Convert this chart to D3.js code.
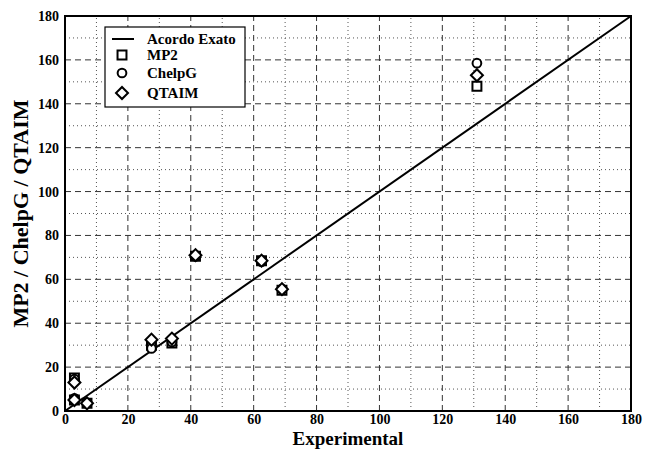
<!DOCTYPE html>
<html><head><meta charset="utf-8">
<script src="https://cdn.jsdelivr.net/npm/d3@7"></script>
<style>body{margin:0;background:#fff}svg{display:block}</style>
</head><body>
<svg id="chart" width="645" height="451"></svg>
<script>
const xTicks = [0,20,40,60,80,100,120,140,160,180];
const yTicks = [0,20,40,60,80,100,120,140,160,180];
const seriesNames = ["MP2","ChelpG","QTAIM"];
const expX   = [3, 3, 7, 27.5, 34, 41.5, 62.5, 69, 131];
const mp2    = [15, 5, 3.5, 30, 31, 70.5, 68.5, 55, 148];
const chelpg = [14.5, 5.8, 3.5, 28.5, 31.5, 70.5, 68, 55.5, 158.5];
const qtaim  = [13, 5, 3.5, 32.5, 33, 71, 68.5, 55.5, 153];
const legendLabels = ["Acordo Exato","MP2","ChelpG","QTAIM"];

const svg = d3.select("#chart");
const m = {l:65, r:14, t:16, b:40};
const W = 645, H = 451;
const x = d3.scaleLinear().domain([0,180]).range([m.l, W-m.r]);
const y = d3.scaleLinear().domain([0,180]).range([H-m.b, m.t]);
const font = "'Liberation Serif', 'Times New Roman', serif";

// grid
const minor = d3.range(10,180,20);
const major = d3.range(20,180,20);
const g = svg.append("g");
g.selectAll(".vminor").data(minor).enter().append("line")
  .attr("x1",d=>x(d)).attr("x2",d=>x(d)).attr("y1",y(0)).attr("y2",y(180))
  .attr("stroke","#555").attr("stroke-width",1).attr("stroke-dasharray","1,3");
g.selectAll(".hminor").data(minor).enter().append("line")
  .attr("y1",d=>y(d)).attr("y2",d=>y(d)).attr("x1",x(0)).attr("x2",x(180))
  .attr("stroke","#555").attr("stroke-width",1).attr("stroke-dasharray","1,3");
g.selectAll(".vmajor").data(major).enter().append("line")
  .attr("x1",d=>x(d)).attr("x2",d=>x(d)).attr("y1",y(0)).attr("y2",y(180))
  .attr("stroke","#333").attr("stroke-width",1).attr("stroke-dasharray","6,4");
g.selectAll(".hmajor").data(major).enter().append("line")
  .attr("y1",d=>y(d)).attr("y2",d=>y(d)).attr("x1",x(0)).attr("x2",x(180))
  .attr("stroke","#333").attr("stroke-width",1).attr("stroke-dasharray","6,4");

// axes
const xAxis = d3.axisBottom(x).tickValues(xTicks).tickSize(0).tickPadding(3);
const yAxis = d3.axisLeft(y).tickValues(yTicks).tickSize(0).tickPadding(6);
const gx = svg.append("g").attr("transform",`translate(0,${y(0)})`).call(xAxis);
const gy = svg.append("g").attr("transform",`translate(${x(0)},0)`).call(yAxis);
[gx,gy].forEach(a=>{
  a.select(".domain").remove();
  a.selectAll("text").attr("font-family",font).attr("font-weight","bold")
    .attr("font-size",14).attr("fill","#000");
});

// diagonal
svg.append("line").attr("x1",x(0)).attr("y1",y(0)).attr("x2",x(180)).attr("y2",y(180))
  .attr("stroke","#000").attr("stroke-width",2);

// frame
svg.append("rect").attr("x",x(0)).attr("y",y(180)).attr("width",x(180)-x(0)).attr("height",y(0)-y(180))
  .attr("fill","none").attr("stroke","#000").attr("stroke-width",2);

// markers
const sym = {
  MP2: {gen: d3.symbol().type(d3.symbolSquare).size(80), rot: 0},
  ChelpG: {gen: d3.symbol().type(d3.symbolCircle).size(60), rot: 0},
  QTAIM: {gen: d3.symbol().type(d3.symbolSquare).size(72), rot: 45}
};
const seriesVals = {MP2: mp2, ChelpG: chelpg, QTAIM: qtaim};
seriesNames.forEach(name=>{
  svg.append("g").selectAll("path").data(expX.map((v,i)=>[v, seriesVals[name][i]])).enter()
    .append("path").attr("d", sym[name].gen())
    .attr("transform",d=>`translate(${x(d[0])},${y(d[1])}) rotate(${sym[name].rot})`)
    .attr("fill","#fff").attr("stroke","#000").attr("stroke-width",2);
});

// legend
const lg = svg.append("g");
lg.append("rect").attr("x",105).attr("y",27).attr("width",140).attr("height",80)
  .attr("fill","#fff").attr("stroke","#000").attr("stroke-width",1.2);
const ly = [39, 55, 73, 93];
lg.append("line").attr("x1",112).attr("x2",134).attr("y1",ly[0]).attr("y2",ly[0])
  .attr("stroke","#000").attr("stroke-width",2);
seriesNames.forEach((name,i)=>{
  lg.append("path").attr("d",sym[name].gen())
    .attr("transform",`translate(122,${ly[i+1]}) rotate(${sym[name].rot})`)
    .attr("fill","#fff").attr("stroke","#000").attr("stroke-width",2);
});
legendLabels.forEach((t,i)=>{
  lg.append("text").attr("x",147).attr("y",ly[i]).attr("dy","0.35em")
    .attr("font-family",font).attr("font-weight","bold").attr("font-size",15).text(t);
});

// titles
svg.append("text").attr("x",(x(0)+x(180))/2).attr("y",445).attr("text-anchor","middle")
  .attr("font-family",font).attr("font-weight","bold").attr("font-size",19).text("Experimental");
svg.append("text").attr("transform",`translate(28,${(y(0)+y(180))/2}) rotate(-90)`)
  .attr("text-anchor","middle").attr("font-family",font).attr("font-weight","bold")
  .attr("font-size",22).text("MP2 / ChelpG / QTAIM");
</script>
</body></html>
